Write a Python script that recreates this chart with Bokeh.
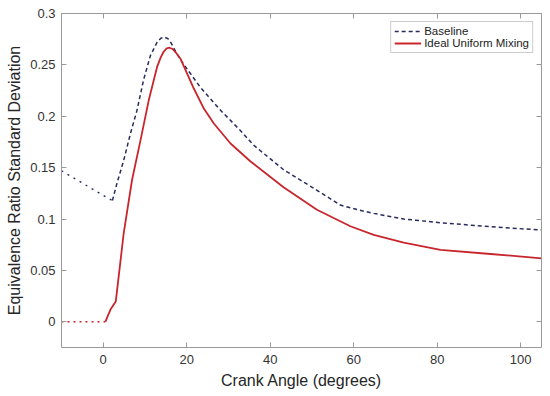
import numpy as np
from bokeh.plotting import figure
from bokeh.models import Range1d, LinearAxis, FixedTicker, Legend, LegendItem
from bokeh.embed import file_html
from bokeh.resources import INLINE

# ---- data ----
crank_baseline = [-10, -5, 0, 2.2, 3.3, 4.9, 6.5, 8.1, 9.7, 11.3, 12.9, 13.8, 14.7, 15.5, 16.3, 17.5,
                  18.9, 23.3, 28.1, 32.9, 36.0, 43.2, 51.2, 56.8, 59.2, 62.0, 64.8,
                  72.0, 80.8, 92.8, 105.0]
sd_baseline = [0.147, 0.135, 0.123, 0.118, 0.135, 0.157, 0.183, 0.206, 0.236, 0.259, 0.272,
               0.2760, 0.277, 0.2755, 0.271, 0.262, 0.2527, 0.228, 0.2058, 0.186, 0.172, 0.148, 0.128,
               0.1136, 0.111, 0.108, 0.1055, 0.100, 0.0964, 0.0925, 0.0893]

crank_ideal = [-10, -5, 0.5, 1.7, 3.0, 4.9, 6.9, 8.9, 10.9, 12.9, 13.8, 14.5, 15.2, 15.9, 16.6, 17.4,
               18.5, 20.1, 21.7, 24.1, 26.5, 30.5, 35.3, 43.2, 51.2, 59.2, 64.8, 72.0, 80.8, 92.8, 105.0]
sd_ideal = [0.0, 0.0, 0.0, 0.0117, 0.0197, 0.086, 0.138, 0.176, 0.2155, 0.248, 0.2575, 0.263,
            0.2660, 0.2667, 0.2655, 0.262, 0.256, 0.2414, 0.227, 0.2075, 0.193, 0.1735, 0.156,
            0.131, 0.109, 0.093, 0.0845, 0.077, 0.0699, 0.066, 0.0618]

x_ticks = [0, 20, 40, 60, 80, 100]
y_ticks = [0, 0.05, 0.1, 0.15, 0.2, 0.25, 0.3]
y_tick_labels = ["0", "0.05", "0.1", "0.15", "0.2", "0.25", "0.3"]

BASE_COLOR = "#272b5e"
IDEAL_COLOR = "#c8262c"
AXIS_COLOR = "#9a9a9a"
TEXT_COLOR = "#333333"
FONT = "Liberation Sans"

p = figure(width=550, height=396, output_backend="svg", toolbar_location=None,
           x_range=Range1d(-10, 105), y_range=Range1d(-0.025, 0.3),
           min_border_left=61, min_border_right=9, min_border_top=13, min_border_bottom=49)
p.xgrid.visible = False
p.ygrid.visible = False
p.outline_line_color = None
p.background_fill_color = "white"
p.border_fill_color = "white"

xb = np.array(crank_baseline)
yb = np.array(sd_baseline)
xi = np.array(crank_ideal)
yi = np.array(sd_ideal)

# baseline: sparse before the minimum, dashed after
pre = xb <= 2.2
post = xb >= 2.2
p.line(xb[pre], yb[pre], line_color=BASE_COLOR, line_width=1.4, line_dash="2 5")
r_base = p.line(xb[post], yb[post], line_color=BASE_COLOR, line_width=1.5, line_dash="4 3")

# ideal: dotted zero segment, solid afterwards
zpre = xi <= 0.5
zpost = xi >= 0.5
p.line(xi[zpre], yi[zpre], line_color=IDEAL_COLOR, line_width=1.5, line_dash="2 4")
r_ideal = p.line(xi[zpost], yi[zpost], line_color=IDEAL_COLOR, line_width=1.8)

def style_axis(ax):
    ax.axis_line_color = AXIS_COLOR
    ax.major_tick_line_color = AXIS_COLOR
    ax.minor_tick_line_color = None
    ax.major_tick_in = 5
    ax.major_tick_out = 0
    ax.major_label_text_font = FONT
    ax.major_label_text_color = TEXT_COLOR
    ax.major_label_text_font_size = "13px"
    ax.axis_label_text_font = FONT
    ax.axis_label_text_font_style = "normal"
    ax.axis_label_text_color = "#262626"
    ax.axis_label_text_font_size = "16px"

xa = p.xaxis[0]
xa.ticker = FixedTicker(ticks=x_ticks)
xa.axis_label = "Crank Angle (degrees)"
xa.major_label_standoff = 7
xa.axis_label_standoff = 5
style_axis(xa)

ya = p.yaxis[0]
ya.ticker = FixedTicker(ticks=y_ticks)
ya.major_label_overrides = {t: l for t, l in zip(y_ticks, y_tick_labels)}
ya.axis_label = "Equivalence Ratio Standard Deviation"
ya.major_label_standoff = 6
ya.axis_label_standoff = 4
style_axis(ya)

top = LinearAxis(ticker=FixedTicker(ticks=x_ticks), major_label_standoff=0,
                 major_label_overrides={t: "" for t in x_ticks})
style_axis(top)
p.add_layout(top, "above")
right = LinearAxis(ticker=FixedTicker(ticks=y_ticks), major_label_standoff=0,
                   major_label_overrides={t: "" for t in y_ticks})
style_axis(right)
p.add_layout(right, "right")

legend = Legend(items=[LegendItem(label="Baseline", renderers=[r_base]),
                       LegendItem(label="Ideal Uniform Mixing", renderers=[r_ideal])],
                location="top_right")
legend.margin = 8
legend.padding = 3
legend.spacing = 0
legend.label_text_font = FONT
legend.label_text_font_size = "11.5px"
legend.label_text_color = "#222222"
legend.label_height = 12
legend.glyph_height = 12
legend.glyph_width = 27
legend.label_standoff = 3
legend.border_line_color = AXIS_COLOR
legend.border_line_width = 1
legend.background_fill_alpha = 1
p.add_layout(legend)

open("out.html", "w").write(file_html(p, INLINE))
